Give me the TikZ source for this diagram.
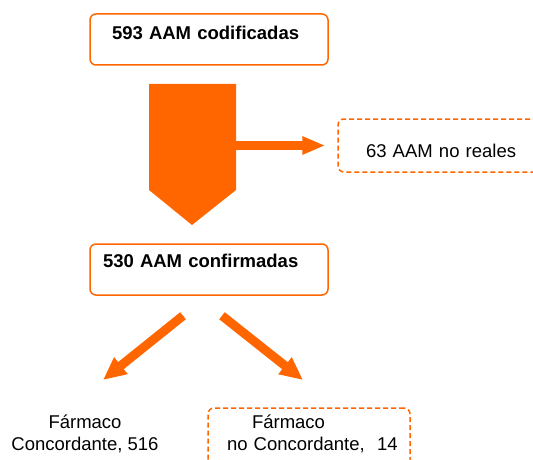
\documentclass[tikz,border=0pt]{standalone}
\usepackage{fontspec}
\setmainfont{Liberation Sans}
\usetikzlibrary{arrows.meta,calc}
\definecolor{FlowClr}{rgb}{1,0.4,0}

\begin{document}
\begin{tikzpicture}[x=1pt,y=1pt,
  font=\fontsize{18.5}{22}\selectfont,
  box/.style={draw=FlowClr,line width=1.5pt,rounded corners=6pt,inner ysep=0pt,align=left},
  dbox/.style={box,dashed,dash pattern=on 5pt off 3pt},
  fat/.style={FlowClr,line width=9pt,-{Triangle[length=23pt,width=20pt]}}]
\useasboundingbox (0,0) rectangle (533,459);

\node[box,font=\fontsize{18.5}{22}\selectfont\bfseries,inner xsep=22pt,text width=194pt,
  text height=26pt,text depth=25pt] (cod) at (209,419.5) {593 AAM codificadas};
\node[box,font=\fontsize{18.5}{22}\selectfont\bfseries,inner xsep=13pt,text width=212pt,
  text height=23pt,text depth=28pt] (conf) at (209,189.5) {530 AAM confirmadas};
\node[dbox,inner xsep=28pt,text width=174pt,text height=38pt,text depth=15pt]
  (noreal) at (453,313.5) {63 AAM no reales};

% Big block arrow between the two boxes.
\fill[FlowClr] (149,375) -- (236,375) -- (236,269) -- (192,234) -- (149,269) -- cycle;
\coordinate (split) at (236,313.5);
\draw[fat,-{Triangle[length=23pt,width=17pt]}] (split) -- ([xshift=-12pt]noreal.west);

\node[align=center,anchor=base] (conc) at (85,9) {Fármaco\\Concordante, 516};
\node[dbox,inner xsep=6pt,text width=190pt,text height=20pt,text depth=52pt]
  (noconc) at (309,15) {\hspace*{38pt}Fármaco\\\hspace*{13pt}no Concordante,\ \ 14};

\coordinate (tl) at (103,79);
\coordinate (tr) at (303,79);
\draw[fat] ([xshift=-26pt,yshift=-20pt]conf.south) -- (tl);
\draw[fat] ([xshift=13pt,yshift=-20pt]conf.south) -- (tr);
\end{tikzpicture}
\end{document}
